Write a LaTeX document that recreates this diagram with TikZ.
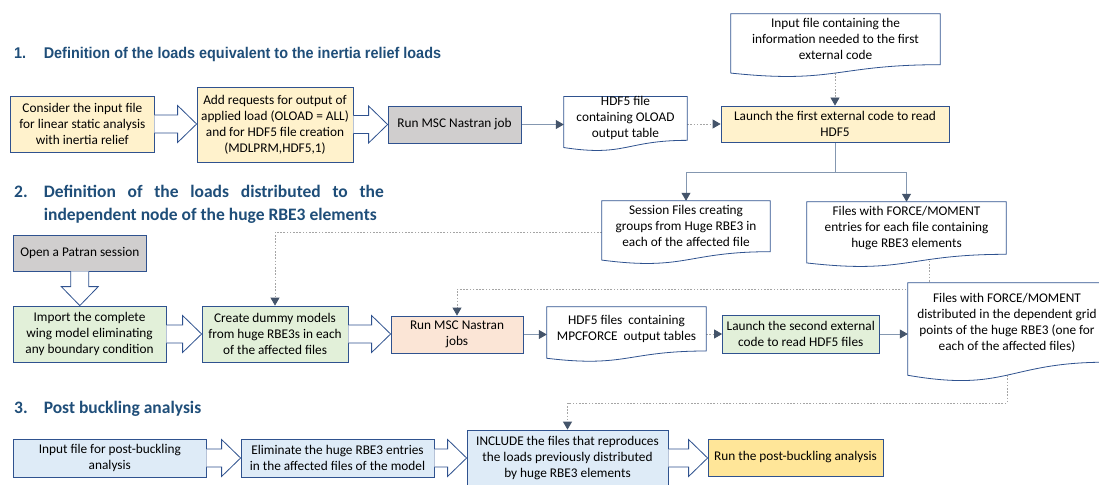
\documentclass[tikz,border=0pt]{standalone}
\usepackage{fontspec}
\setmainfont{Carlito}
\newfontfamily\arialfont[FakeStretch=0.93]{Liberation Sans}
\usetikzlibrary{calc,arrows.meta,shadows}
\definecolor{bblue}{HTML}{2F528F}
\definecolor{headblue}{HTML}{1F4E79}
\definecolor{yelfill}{HTML}{FFF2CC}
\definecolor{grayfill}{HTML}{D0CECE}
\definecolor{greenfill}{HTML}{E2F0D9}
\definecolor{peachfill}{HTML}{FBE5D6}
\definecolor{bluefill}{HTML}{DEEBF7}
\definecolor{goldfill}{HTML}{FFE699}
\definecolor{linegray}{HTML}{8497B0}
\definecolor{dotgray}{HTML}{A5A5A5}
\definecolor{tipdark}{HTML}{44546A}
\newcommand\bxfont{\fontsize{13.3}{16}\selectfont}
\newcommand\hafont{\arialfont\bfseries\fontsize{15.5}{18}\selectfont}
\newcommand\hbfont{\bfseries\fontsize{17.5}{23}\selectfont}
\pgfdeclarelayer{bg}
\pgfdeclarelayer{mid}
\pgfsetlayers{bg,mid,main}
\newcommand\docoutline[1]{%
  \begin{pgfonlayer}{mid}
  \draw[docline] (#1.north west) -- (#1.north east) -- (#1.south east)
     .. controls (#1.south) and ($(#1.north)!1.3809!(#1.south)$) ..
     ($(#1.north west)!1.16459!(#1.south west)$) -- cycle;
  \end{pgfonlayer}
  \coordinate (#1-b) at ($(#1.north)!1.16342!(#1.south)$);
}
\newcommand\harrow[2]{%
  \fill[white] let \p1=(#1.east), \p2=(#2.west) in
    (\x1,\y1+9pt) -- (\x2-19pt,\y1+9pt) -- (\x2-19pt,\y1+18.5pt) -- (\x2,\y1)
    -- (\x2-19pt,\y1-18.5pt) -- (\x2-19pt,\y1-9pt) -- (\x1,\y1-9pt) -- cycle;
  \draw[blockline] let \p1=(#1.east), \p2=(#2.west) in
    (\x1,\y1+9pt) -- (\x2-19pt,\y1+9pt) -- (\x2-19pt,\y1+18.5pt) -- (\x2,\y1)
    -- (\x2-19pt,\y1-18.5pt) -- (\x2-19pt,\y1-9pt) -- (\x1,\y1-9pt);
}
\newcommand\varrow[2]{%
  \fill[white] let \p1=(#1.south), \p2=(#2.north) in
    (\x1-9pt,\y1) -- (\x1-9pt,\y2+19pt) -- (\x1-18.5pt,\y2+19pt) -- (\x1,\y2)
    -- (\x1+18.5pt,\y2+19pt) -- (\x1+9pt,\y2+19pt) -- (\x1+9pt,\y1) -- cycle;
  \draw[blockline] let \p1=(#1.south), \p2=(#2.north) in
    (\x1-9pt,\y1) -- (\x1-9pt,\y2+19pt) -- (\x1-18.5pt,\y2+19pt) -- (\x1,\y2)
    -- (\x1+18.5pt,\y2+19pt) -- (\x1+9pt,\y2+19pt) -- (\x1+9pt,\y1);
}
\begin{document}
\begin{tikzpicture}[x=1pt,y=-1pt,
  box/.style={draw=bblue, line width=0.8pt, align=center, font=\bxfont, inner sep=1pt,
     drop shadow={shadow xshift=1.3pt, shadow yshift=-1.3pt, opacity=0.3}},
  doctext/.style={align=center, font=\bxfont, inner sep=0pt},
  docline/.style={draw=bblue, line width=0.8pt, fill=white},
  blockline/.style={draw=bblue, line width=0.8pt},
  hd1/.style={font=\hafont, text=headblue, inner sep=0pt, anchor=base west},
  hd2/.style={font=\hbfont, text=headblue, inner sep=0pt, anchor=base west},
  tip/.style={-{Triangle[length=8pt,width=9pt,color=tipdark]}},
  conn/.style={draw=linegray, line width=0.8pt, tip},
  plainline/.style={draw=linegray, line width=0.8pt},
  dotconn/.style={draw=dotgray, line width=0.8pt, dash pattern=on 1.6pt off 1.6pt, tip}]
\useasboundingbox (0,0) rectangle (1099,484);
\begin{pgfonlayer}{bg}
\fill[white] (0,0) rectangle (1099,484);
\end{pgfonlayer}

% headings
\node[hd1] (n1) at (14,58.5) {1.};
\node[hd1] (h1) at (43.6,58.5) {Definition of the loads equivalent to the inertia relief loads};
\node[hd2] (n2) at (14,197.5) {2.};
\node[hd2] (h2a) at (43.6,197.5) {\makebox[340pt][s]{Definition of the loads distributed to the}};
\node[hd2] (h2b) at (43.6,220.5) {independent node of the huge RBE3 elements};
\node[hd2] (n3) at (14,413) {3.};
\node[hd2] (h3) at (43.6,413) {Post buckling analysis};

% row 1
\node[box, fill=yelfill, minimum width=143.3pt, minimum height=56pt] (B1) at (82.35,124) {Consider the input file\\for linear static analysis\\with inertia relief};
\node[box, fill=yelfill, minimum width=156pt, minimum height=75pt] (B2) at (275,124.5) {Add requests for output of\\applied load (OLOAD = ALL)\\and for HDF5 file creation\\(MDLPRM,HDF5,1)};
\node[box, fill=grayfill, minimum width=133pt, minimum height=37pt] (B3) at (454.5,124.5) {Run MSC Nastran job};
\node[doctext, minimum width=123pt, minimum height=42.9pt] (D1) at (625.5,118.45) {HDF5 file\\containing OLOAD\\output table};
\node[box, fill=yelfill, minimum width=228pt, minimum height=36pt] (B4) at (835,124) {Launch the first external code to read\\HDF5};
\node[doctext, minimum width=209pt, minimum height=50.5pt] (D0) at (835.5,39.25) {Input file containing the\\information needed to the first\\external code};
\node[doctext, minimum width=168pt, minimum height=50.5pt] (D2) at (686,226.25) {Session Files creating\\groups from Huge RBE3 in\\each of the affected file};
\node[doctext, minimum width=199pt, minimum height=52.1pt] (D3) at (906.5,228.05) {Files with FORCE/MOMENT\\entries for each file containing\\huge RBE3 elements};

% row 2
\node[box, fill=grayfill, minimum width=132.4pt, minimum height=36pt] (B0) at (79.8,253) {Open a Patran session};
\node[box, fill=greenfill, minimum width=153pt, minimum height=56pt] (B5) at (89.5,334) {Import the complete\\wing model eliminating\\any boundary condition};
\node[box, fill=greenfill, minimum width=146pt, minimum height=56pt] (B6) at (275,334) {Create dummy models\\from huge RBE3s in each\\of the affected files};
\node[box, fill=peachfill, minimum width=132pt, minimum height=37pt] (B7) at (457,334.5) {Run MSC Nastran\\jobs};
\node[doctext, minimum width=159pt, minimum height=43.8pt] (D5) at (626.5,328.9) {HDF5 files\ \ containing\\MPCFORCE\ \ output tables};
\node[box, fill=greenfill, minimum width=156.5pt, minimum height=38pt] (B8) at (800.75,334) {Launch the second external\\code to read HDF5 files};
\node[doctext, minimum width=198pt, minimum height=79pt] (D4) at (1007,322.5) {Files with FORCE/MOMENT\\distributed in the dependent grid\\points of the huge RBE3 (one for\\each of the affected files)};

% row 3
\node[box, fill=bluefill, minimum width=192.4pt, minimum height=38pt] (B9) at (109.8,458) {Input file for post-buckling\\analysis};
\node[box, fill=bluefill, minimum width=193pt, minimum height=38pt] (B10) at (337.5,458) {Eliminate the huge RBE3 entries\\in the affected files of the model};
\node[box, fill=bluefill, minimum width=201pt, minimum height=56pt] (B11) at (567.5,458) {INCLUDE the files that reproduces\\the loads previously distributed\\by huge RBE3 elements};
\node[box, fill=goldfill, minimum width=175pt, minimum height=37pt] (B12) at (795.5,457.5) {Run the post-buckling analysis};

% document outlines
\docoutline{D0}
\docoutline{D1}
\docoutline{D2}
\docoutline{D3}
\docoutline{D4}
\docoutline{D5}

% block arrows
\harrow{B1}{B2}
\harrow{B2}{B3}
\varrow{B0}{B5}
\harrow{B5}{B6}
\harrow{B6}{B7}
\harrow{B9}{B10}
\harrow{B10}{B11}
\harrow{B11}{B12}

% connectors
\coordinate (split) at ($(B4.south)+(0,30)$);
\coordinate (c3) at ($(D3.south)+(22.5,35)$);
\coordinate (c4) at ($(D4-b)+(0,28)$);
\begin{pgfonlayer}{bg}
\draw[conn] (B3.east) -- (B3.east -| D1.west);
\draw[dotconn] (D1.east |- B4.west) -- (B4.west);
\draw[dotconn] (B4.north |- D0-b) -- (B4.north);
\draw[plainline] (B4.south) -- (split);
\draw[conn] (split) -| (D2.north);
\draw[conn] (split) -| (D3.north);
\draw[dotconn] ([yshift=-6pt]D2.west) -| (B6.north);
\draw[dotconn] (c3 |- D3.south) -- (c3) -| (B7.north);
\draw[conn] (B7.east) -- (B7.east -| D5.west);
\draw[dotconn] (D5.east |- B8.west) -- (B8.west);
\draw[conn] (B8.east) -- (B8.east -| D4.west);
\draw[dotconn] (D4-b) -- (c4) -| (B11.north);
\end{pgfonlayer}
\end{tikzpicture}
\end{document}
